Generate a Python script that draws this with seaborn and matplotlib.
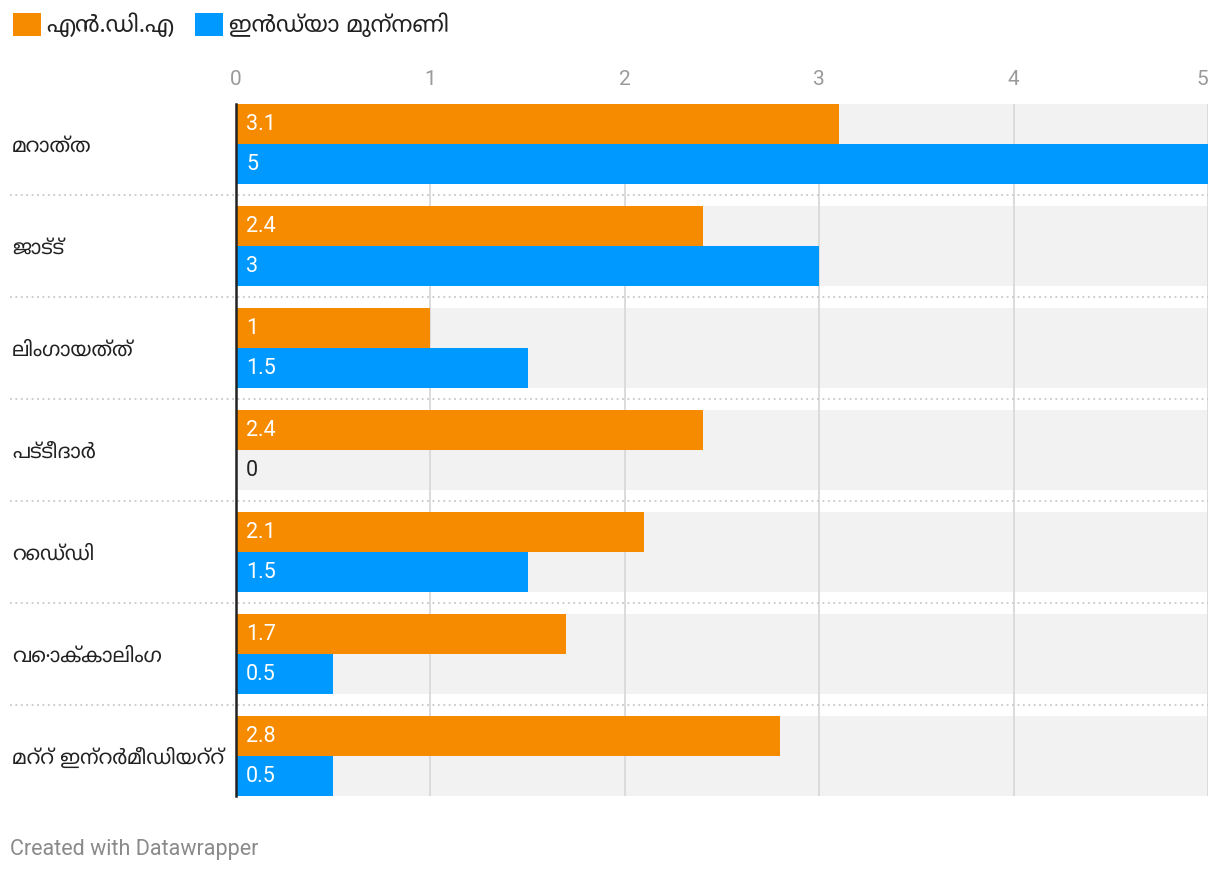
import matplotlib
matplotlib.use("Agg")
import matplotlib.pyplot as plt
import matplotlib.transforms as mtransforms
from matplotlib import font_manager as fm
from matplotlib.patches import Patch
import seaborn as sns
import pandas as pd

# ---------------- data ----------------
categories = ["മറാത്ത", "ജാട്ട്", "ലിംഗായത്ത്", "പട്ടീദാർ", "റെഡ്ഡി", "വൊക്കാലിംഗ", "മറ്റ് ഇന്റർമീഡിയറ്റ്"]
series_names = ["എൻ.ഡി.എ", "ഇൻഡ്യാ മുന്നണി"]
nda_values = [3.1, 2.4, 1, 2.4, 2.1, 1.7, 2.8]
india_values = [5, 3, 1.5, 0, 1.5, 0.5, 0.5]
x_ticks = [0, 1, 2, 3, 4, 5]
footer = "Created with Datawrapper"

# ---------------- fonts ----------------
mal_path = "/usr/share/fonts/truetype/google-fonts/NotoSansMalayalam[wdth,wght].ttf"
try:
    fm.fontManager.addfont(mal_path)
    mal_name = fm.FontProperties(fname=mal_path).get_name()
except Exception:
    mal_name = "Noto Sans Malayalam"

sns.set_theme(style="white")
plt.rcParams["font.family"] = ["Roboto", mal_name, "DejaVu Sans"]
mal_family = [mal_name, "Roboto", "DejaVu Sans"]

ORANGE = "#f78b00"
BLUE = "#0099ff"
palette = {series_names[0]: ORANGE, series_names[1]: BLUE}

df = pd.DataFrame({
    "category": categories * 2,
    "series": [series_names[0]] * len(categories) + [series_names[1]] * len(categories),
    "value": nda_values + india_values,
})

W, H = 1220, 874
fig = plt.figure(figsize=(W / 100, H / 100), dpi=100)
ax_left, ax_right = 236 / W, 1208 / W
ax_top, ax_bot = 104 / H, 796 / H
ax = fig.add_axes([ax_left, 1 - ax_bot, ax_right - ax_left, ax_bot - ax_top])

group_w = 80 / 102
n = len(categories)

# gray row backgrounds
ax.barh(range(n), [max(x_ticks)] * n, height=group_w, color="#f2f2f2", zorder=0.2, linewidth=0)
n_bg = len(ax.containers)

sns.barplot(data=df, y="category", x="value", hue="series", palette=palette,
            orient="h", width=group_w, dodge=True, ax=ax, legend=False,
            linewidth=0, saturation=1, zorder=2)

ax.set_xlim(0, max(x_ticks))
ax.set_ylim(n - 1 + group_w / 2, -group_w / 2)
ax.set_xlabel("")
ax.set_ylabel("")

# grid
ax.set_xticks(x_ticks)
ax.grid(axis="x", color="#d9d9d9", linewidth=1.3, zorder=0.5)
ax.grid(axis="y", visible=False)
ax.set_axisbelow(True)

# x ticks at top
ax.xaxis.tick_top()
ax.tick_params(axis="x", length=0, pad=11, labelsize=15, labelcolor="#9a9a9a")
ax.set_xticklabels([str(t) for t in x_ticks])
xl = ax.get_xticklabels()
xl[-1].set_ha("right")

# y tick labels (categories) left-aligned at the figure margin
ax.tick_params(axis="y", length=0, pad=(236 - 12) * 0.72)
ax.set_yticks(range(n))
ax.set_yticklabels(categories, family=mal_family, fontsize=14.6, color="#222222", ha="left")

for s in ["top", "right", "bottom"]:
    ax.spines[s].set_visible(False)
ax.spines["left"].set_color("#222222")
ax.spines["left"].set_linewidth(1.8)
ax.spines["left"].set_zorder(5)

# dotted separators between groups
trans = mtransforms.blended_transform_factory(ax.transAxes, ax.transData)
for i in range(n - 1):
    ax.plot([(10 - 236) / 972, 1], [i + 0.5, i + 0.5], transform=trans, clip_on=False,
            color="#c8c8c8", linewidth=1.3, linestyle=(0, (1, 2)), zorder=0.6)

# value labels inside bars
for cont, vals in zip(ax.containers[n_bg:], [nda_values, india_values]):
    for bar, v in zip(cont, vals):
        yc = bar.get_y() + bar.get_height() / 2
        txt = f"{v:g}"
        col = "white" if v > 0.2 else "#222222"
        ax.annotate(txt, xy=(0, yc), xytext=(10, -1), textcoords="offset pixels",
                    ha="left", va="center", fontsize=15.5, color=col, zorder=6)

# legend
handles = [Patch(facecolor=palette[s], edgecolor="none", label=s) for s in series_names]
leg = fig.legend(handles=handles, loc="upper left", bbox_to_anchor=(0.0, 1.0),
                 ncol=2, frameon=False, prop={"family": mal_family, "size": 16.5},
                 handlelength=1.22, handleheight=1.22, handletextpad=0.25,
                 columnspacing=0.9, borderaxespad=0.3, borderpad=0.25)
for t in leg.get_texts():
    t.set_color("#222222")

fig.text(10 / W, 1 - 849 / H, footer, fontsize=15.5, color="#8a8a8a", va="center", ha="left")

fig.savefig("out.png", dpi=100)
